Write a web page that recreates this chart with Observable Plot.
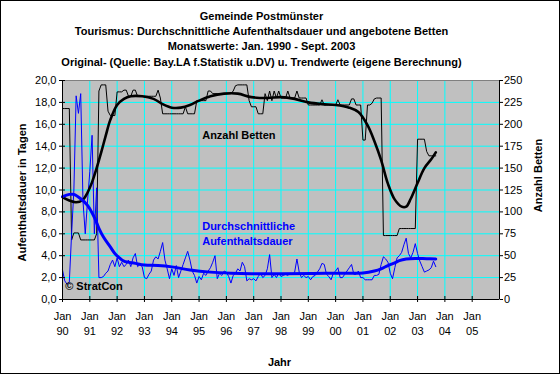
<!DOCTYPE html>
<html><head><meta charset="utf-8">
<script src="https://cdn.jsdelivr.net/npm/d3@7"></script>
<script src="https://cdn.jsdelivr.net/npm/@observablehq/plot@0.6"></script>
<style>
html,body{margin:0;padding:0;background:#fff;}
#chart svg{display:block;outline:1px solid #000;outline-offset:-1px;}
</style></head><body><div id="chart"></div>
<script>
// ---- data (monthly, Jan 1990 .. Sep 2003) ----
const startYear = 1990;
const titleLines = [
  "Gemeinde Postmünster",
  "Tourismus: Durchschnittliche Aufenthaltsdauer und angebotene Betten",
  "Monatswerte: Jan. 1990 - Sept. 2003",
  "Original- (Quelle: Bay.LA f.Statistik u.DV) u. Trendwerte (eigene Berechnung)"
];
const yearTicks = [1990,1991,1992,1993,1994,1995,1996,1997,1998,1999,2000,2001,2002,2003,2004,2005];
const yearLabels = ["90","91","92","93","94","95","96","97","98","99","00","01","02","03","04","05"];
const leftTicks = [0,2,4,6,8,10,12,14,16,18,20];
const rightTicks = [0,25,50,75,100,125,150,175,200,225,250];

// Anzahl Betten (original, monthly)
const beds = [
  218,218,218,218,68,76,76,76,68,68,
  68,68,68,68,68,75,238,245,245,245,
  215,210,210,210,237,237,237,239,239,232,
  232,239,239,232,232,232,232,232,232,232,
  232,232,239,230,212,212,212,212,212,212,
  212,212,212,212,220,212,212,212,212,227,
  227,227,227,227,238,238,235,235,235,235,
  235,235,235,235,235,238,244,245,245,245,
  245,245,227,220,220,220,212,212,212,235,
  227,238,227,238,230,238,230,230,230,238,
  230,230,230,238,230,230,230,230,222,222,
  222,222,222,222,228,222,222,222,222,222,
  222,228,222,222,222,222,222,229,229,222,
  222,222,182,182,222,222,224,229,230,230,
  230,73,73,73,73,73,73,73,81,81,
  81,81,81,81,81,81,183,183,183,183,
  169,164,164,164,164
];
// Durchschnittliche Aufenthaltsdauer (original, monthly, days)
const stay = [
  2.7,1.7,1.4,1.6,6.0,10.0,18.6,17.0,18.8,9.0,
  6.0,9.0,11.7,15.0,6.0,10.2,2.0,2.0,2.1,2.4,
  2.6,3.2,3.6,3.0,3.8,3.0,3.4,3.0,3.2,3.6,
  3.0,3.8,4.2,3.0,3.2,3.0,2.0,1.9,2.3,2.6,
  3.6,3.9,3.7,4.4,5.2,3.6,2.8,1.9,2.8,2.2,
  3.1,2.0,2.6,3.2,3.8,4.4,3.6,2.6,2.2,1.5,
  2.1,1.8,2.4,2.2,2.6,2.9,3.4,4.0,1.9,2.4,
  2.2,2.6,2.5,2.1,1.5,2.2,2.4,2.8,2.6,3.4,
  3.0,1.7,1.9,1.8,1.9,1.7,2.1,2.4,2.0,2.2,
  2.8,4.1,2.0,2.3,2.0,2.4,2.1,2.2,2.3,2.2,
  2.4,2.3,2.5,3.7,2.5,2.0,2.2,2.0,2.1,1.8,
  2.1,2.2,2.5,2.8,3.3,3.2,2.3,2.1,1.8,2.4,
  2.6,2.9,2.0,2.0,2.3,2.6,2.9,3.2,2.3,2.3,
  2.6,2.0,2.0,1.8,1.8,1.8,1.8,2.2,2.2,2.3,
  3.2,3.9,3.7,3.4,2.4,1.9,2.9,3.8,4.0,4.3,
  5.0,5.6,4.2,3.8,4.3,5.1,4.2,3.5,3.0,2.5,
  2.6,2.7,2.9,3.5,3.0
];
// Trend of beds (month index, value)
const bedsTrendMonth = [0,3,6,9,11,13,15,17,19,21,24,27,30,35,40,44,48,52,56,60,65,71,77,83,90,96,102,108,114,120,126,130,134,137,140,143,146,149,151,153,156,159,162,164];
const bedsTrendValue = [117,113,111,114,122,134,150,168,187,205,222,229,232,232,229,223,219,219,222,227,232,235,235,231,230,231,229,225,223,222,219,214,199,181,159,132,114,106,106,115,133,150,160,168];
// Trend of stay duration (month index, value)
const stayTrendMonth = [0,3,5,8,11,14,16,18,21,23,25,27,32,36,42,48,56,65,74,83,96,110,125,132,137,140,143,146,148,151,155,160,164];
const stayTrendValue = [9.4,9.6,9.6,9.2,8.6,7.5,6.5,5.7,4.8,4.2,3.8,3.5,3.3,3.15,3.1,2.98,2.7,2.5,2.4,2.35,2.35,2.38,2.4,2.42,2.6,2.8,3.1,3.35,3.55,3.7,3.75,3.72,3.7];

// ---- tables ----
const bedScale = 20 / 250; // right axis (beds) onto left axis (days)
const monthly = beds.map((b, i) => ({t: startYear + i / 12, beds: b * bedScale, stay: stay[i]}));
const bedsTrend = bedsTrendMonth.map((m, i) => ({t: startYear + m / 12, v: bedsTrendValue[i] * bedScale}));
const stayTrend = stayTrendMonth.map((m, i) => ({t: startYear + m / 12, v: stayTrendValue[i]}));
const labelOf = new Map(yearTicks.map((y, i) => [y, "Jan\n" + yearLabels[i]]));

const font = "Liberation Sans, Arial, sans-serif";
const chart = Plot.plot({
  width: 560, height: 374,
  marginLeft: 62, marginRight: 61, marginTop: 80, marginBottom: 75,
  style: {fontFamily: font, fontSize: "11px", color: "#000", background: "#fff"},
  x: {domain: [1990, 2006]},
  y: {domain: [0, 20]},
  marks: [
    Plot.frame({fill: "#c0c0c0"}),
    Plot.gridX(yearTicks.slice(1), {stroke: "#00ffff", strokeOpacity: 1}),
    Plot.gridY(leftTicks.slice(1, -1), {stroke: "#00ffff", strokeOpacity: 1}),
    Plot.frame({stroke: "#808080"}),
    Plot.line(monthly, {x: "t", y: "beds", stroke: "#000", strokeWidth: 1}),
    Plot.line(monthly, {x: "t", y: "stay", stroke: "#0000ff", strokeWidth: 1}),
    Plot.line(bedsTrend, {x: "t", y: "v", stroke: "#000", strokeWidth: 2.6, curve: "catmull-rom"}),
    Plot.line(stayTrend, {x: "t", y: "v", stroke: "#0000ff", strokeWidth: 3, curve: "catmull-rom"}),
    Plot.ruleX([1990], {stroke: "#000"}),
    Plot.ruleX([2006], {stroke: "#000"}),
    Plot.ruleY([0], {stroke: "#000"}),
    // left axis
    Plot.axisY(leftTicks, {anchor: "left", tickSize: 3, tickPadding: 3, label: null,
      tickFormat: d => d.toFixed(1).replace(".", ",")}),
    Plot.axisY(leftTicks, {anchor: "left", tickSize: 3, dx: 3, text: null, label: null}),
    // right axis (beds)
    Plot.axisY(rightTicks.map(b => b * bedScale), {anchor: "right", tickSize: 3, tickPadding: 1.5, label: null,
      tickFormat: d => String(Math.round(d / bedScale))}),
    // x axis
    Plot.axisX(yearTicks, {anchor: "bottom", tickSize: 3, tickPadding: 7, label: null, lineHeight: 1.35,
      tickFormat: d => labelOf.get(d)}),
    Plot.axisX(yearTicks, {anchor: "bottom", tickSize: 3, dy: -3, text: null, label: null}),
    // titles
    ...titleLines.map((s, i) => Plot.text([s], {frameAnchor: "top", dx: -19.5, dy: [-64.5, -49, -34, -18.5][i],
      lineAnchor: "middle", fontWeight: "bold", fontSize: 11})),
    Plot.text(["Jahr"], {frameAnchor: "bottom", dx: -1.5, dy: 63, lineAnchor: "middle", fontWeight: "bold", fontSize: 11}),
    Plot.text(["Aufenthaltsdauer in Tagen"], {frameAnchor: "left", dx: -40, dy: 2.5, rotate: -90,
      textAnchor: "middle", lineAnchor: "middle", fontWeight: "bold", fontSize: 11}),
    Plot.text(["Anzahl Betten"], {frameAnchor: "right", dx: 39, dy: -14.5, rotate: -90,
      textAnchor: "middle", lineAnchor: "middle", fontWeight: "bold", fontSize: 11}),
    // annotations
    Plot.text(["Anzahl Betten"], {frameAnchor: "top-left", dx: 139.7, dy: 54.5, textAnchor: "start",
      lineAnchor: "middle", fontWeight: "bold", fontSize: 11, fill: "#000"}),
    Plot.text(["Durchschnittliche\nAufenthaltsdauer"], {frameAnchor: "top-left", dx: 139.7, dy: 139, textAnchor: "start",
      lineAnchor: "top", lineHeight: 1.35, fontWeight: "bold", fontSize: 11, fill: "#0000ff"}),
    Plot.text(["© StratCon"], {frameAnchor: "bottom-left", dx: 2.7, dy: -13, textAnchor: "start",
      lineAnchor: "middle", fontWeight: "bold", fontSize: 11, fill: "#000"})
  ]
});
document.getElementById("chart").append(chart);
</script></body></html>
